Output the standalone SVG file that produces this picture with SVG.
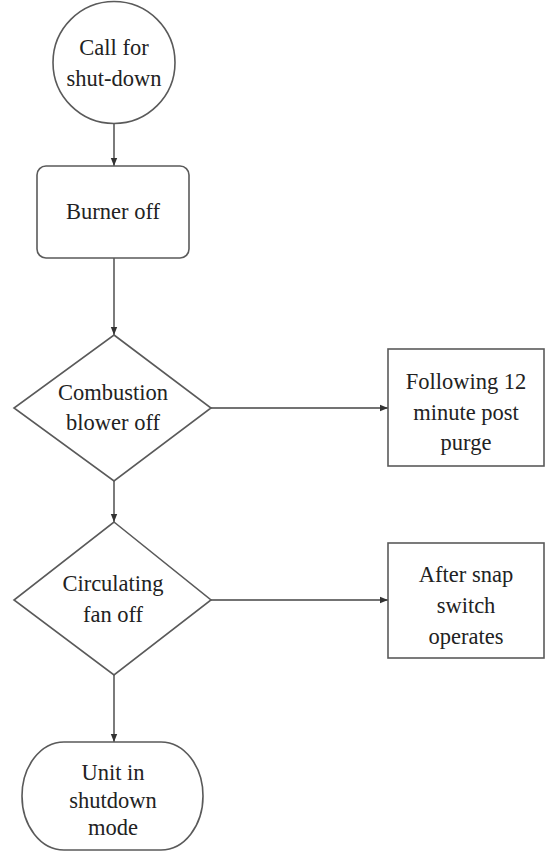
<svg xmlns="http://www.w3.org/2000/svg" width="549" height="859" viewBox="0 0 549 859">
<defs>
<marker id="ah" viewBox="0 0 10 10" refX="10" refY="5" markerWidth="8" markerHeight="8" markerUnits="userSpaceOnUse" orient="auto"><path d="M0,1 L10,5 L0,9 z" fill="#333"/></marker>
<style>
.s{fill:#fff;stroke:#5a5a5a;stroke-width:1.6}
.t{font-family:"Liberation Serif","Times New Roman","DejaVu Serif",serif;font-size:22.5px;fill:#222;text-anchor:middle}
.c{fill:none;stroke:#444;stroke-width:1.4;marker-end:url(#ah)}
</style>
</defs>
<rect width="549" height="859" fill="#fff"/>
<g id="connectors">
<line class="c" x1="114" y1="123" x2="114" y2="166"/>
<line class="c" x1="114" y1="258" x2="114" y2="335"/>
<line class="c" x1="211" y1="408" x2="388" y2="408"/>
<line class="c" x1="114" y1="481" x2="114" y2="522"/>
<line class="c" x1="211" y1="600" x2="388" y2="600"/>
<line class="c" x1="114" y1="675" x2="114" y2="742"/>
</g>
<g id="start" font-family="Liberation Serif, serif">
<circle class="s" cx="114" cy="62.5" r="61"/>
<text class="t" x="114" y="55">Call for</text>
<text class="t" x="114" y="86">shut-down</text>
</g>
<g id="burner" font-family="Liberation Serif, serif">
<rect class="s" x="37" y="166" width="152" height="92" rx="9"/>
<text class="t" x="113" y="219">Burner off</text>
</g>
<g id="combustion" font-family="Liberation Serif, serif">
<polygon class="s" points="114,335 211,408 114,481 14,408"/>
<text class="t" x="113" y="400">Combustion</text>
<text class="t" x="113" y="430">blower off</text>
</g>
<g id="following" font-family="Liberation Serif, serif">
<rect class="s" x="388" y="349" width="156" height="117"/>
<text class="t" x="466" y="389">Following 12</text>
<text class="t" x="466" y="420">minute post</text>
<text class="t" x="466" y="450">purge</text>
</g>
<g id="circulating" font-family="Liberation Serif, serif">
<polygon class="s" points="114,522 211,600 114,675 14,600"/>
<text class="t" x="113" y="591">Circulating</text>
<text class="t" x="113" y="622">fan off</text>
</g>
<g id="after" font-family="Liberation Serif, serif">
<rect class="s" x="388" y="543" width="156" height="115"/>
<text class="t" x="466" y="582">After snap</text>
<text class="t" x="466" y="613">switch</text>
<text class="t" x="466" y="644">operates</text>
</g>
<g id="end" font-family="Liberation Serif, serif">
<rect class="s" x="22" y="742" width="181" height="108" rx="42" ry="54"/>
<text class="t" x="113" y="780">Unit in</text>
<text class="t" x="113" y="808">shutdown</text>
<text class="t" x="113" y="835">mode</text>
</g>
</svg>
